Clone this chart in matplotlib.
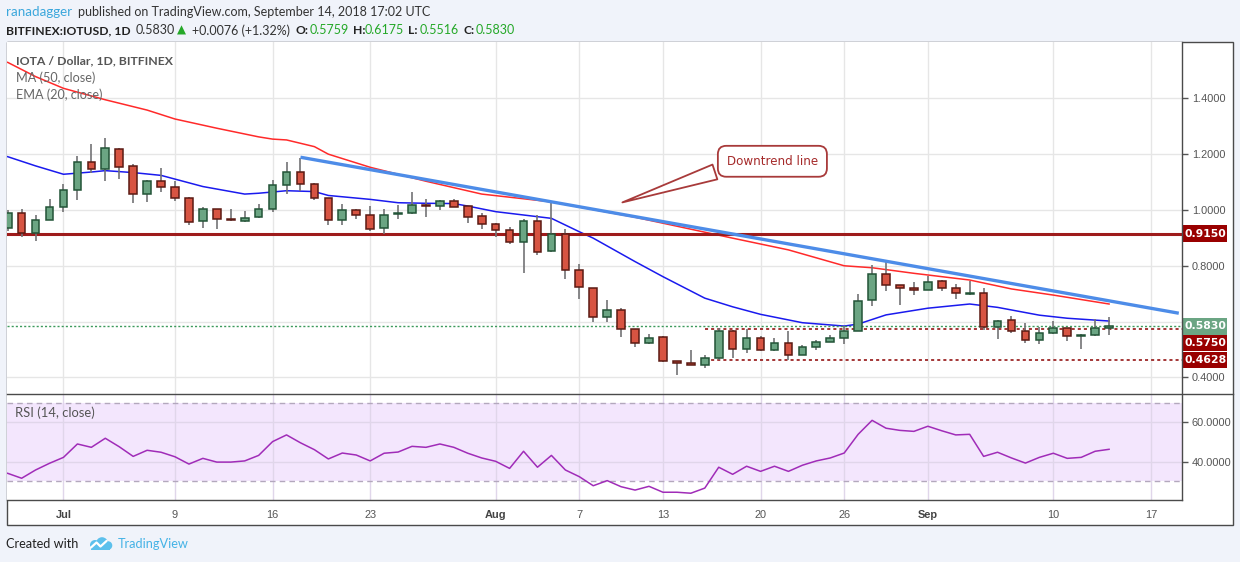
import matplotlib
matplotlib.use("Agg")
import matplotlib.pyplot as plt
import matplotlib.dates as mdates
import numpy as np
import pandas as pd
from matplotlib.patches import Rectangle, Circle
from matplotlib.lines import Line2D
from matplotlib.transforms import blended_transform_factory

# ---------------- data ----------------
dates = pd.date_range("2018-06-27", "2018-09-14", freq="D")

opens = [0.935, 0.988, 0.919, 0.964,
         1.010, 1.071, 1.171, 1.146, 1.218, 1.157, 1.056, 1.103, 1.081, 1.042,
         0.959, 1.002, 0.968, 0.959, 0.974, 1.002, 1.089, 1.135, 1.093, 1.042,
         0.963, 0.999, 0.981, 0.934, 0.985, 0.988, 1.017, 1.013, 1.031, 1.014, 0.977,
         0.949, 0.927, 0.884, 0.959, 0.852, 0.914, 0.784, 0.719, 0.615, 0.640,
         0.572, 0.522, 0.544, 0.458, 0.451, 0.444, 0.468, 0.565, 0.501, 0.540,
         0.497, 0.522, 0.479, 0.508, 0.526, 0.540, 0.565, 0.676, 0.770, 0.730, 0.719,
         0.712, 0.744, 0.719, 0.700, 0.701, 0.580, 0.605, 0.565, 0.533, 0.558,
         0.576, 0.547, 0.551, 0.5759]
highs = [1.000, 1.002, 0.982, 1.039,
         1.093, 1.194, 1.237, 1.258, 1.221, 1.165, 1.108, 1.149, 1.104, 1.045,
         1.010, 1.004, 1.002, 0.995, 1.020, 1.108, 1.171, 1.185, 1.095, 1.044,
         1.020, 1.002, 1.013, 1.002, 1.017, 1.063, 1.039, 1.036, 1.039, 1.015, 0.989,
         0.955, 0.939, 0.967, 0.982, 1.027, 0.931, 0.805, 0.722, 0.677, 0.649,
         0.575, 0.556, 0.550, 0.460, 0.497, 0.480, 0.576, 0.569, 0.575, 0.550,
         0.540, 0.566, 0.515, 0.533, 0.551, 0.583, 0.699, 0.803, 0.817, 0.731, 0.741,
         0.762, 0.748, 0.734, 0.744, 0.719, 0.605, 0.619, 0.594, 0.580, 0.601,
         0.578, 0.555, 0.608, 0.6175]
lows = [0.925, 0.904, 0.890, 0.964,
        0.994, 1.036, 1.131, 1.105, 1.110, 1.026, 1.030, 1.066, 1.033, 0.947,
        0.937, 0.933, 0.960, 0.957, 0.972, 0.992, 1.056, 1.069, 1.035, 0.945,
        0.945, 0.967, 0.925, 0.913, 0.967, 0.985, 0.976, 1.000, 1.020, 0.955, 0.933,
        0.904, 0.877, 0.775, 0.837, 0.850, 0.754, 0.682, 0.599, 0.599, 0.546,
        0.508, 0.518, 0.456, 0.407, 0.443, 0.435, 0.463, 0.471, 0.486, 0.493,
        0.494, 0.461, 0.479, 0.498, 0.526, 0.521, 0.565, 0.657, 0.711, 0.661, 0.696,
        0.712, 0.710, 0.680, 0.695, 0.569, 0.537, 0.558, 0.522, 0.519, 0.555,
        0.529, 0.503, 0.549, 0.5516]
closes = [0.988, 0.919, 0.964, 1.010,
          1.071, 1.171, 1.146, 1.221, 1.153, 1.056, 1.103, 1.081, 1.042, 0.956,
          1.002, 0.967, 0.963, 0.970, 1.002, 1.089, 1.135, 1.093, 1.042, 0.963,
          0.999, 0.981, 0.931, 0.981, 0.988, 1.017, 1.013, 1.032, 1.012, 0.976, 0.949,
          0.927, 0.884, 0.959, 0.849, 0.914, 0.784, 0.723, 0.615, 0.640, 0.572,
          0.522, 0.540, 0.458, 0.451, 0.444, 0.468, 0.565, 0.501, 0.540, 0.497,
          0.522, 0.479, 0.508, 0.526, 0.540, 0.565, 0.673, 0.770, 0.730, 0.719, 0.712,
          0.741, 0.719, 0.701, 0.702, 0.580, 0.601, 0.565, 0.533, 0.558, 0.576,
          0.547, 0.551, 0.5754, 0.5830]

rsi_vals = [34.1, 31.6, 35.8, 39.2,
            42.2, 49.0, 47.3, 51.9, 47.6, 42.7, 45.8, 44.8, 42.5, 38.8,
            41.7, 39.8, 39.8, 40.4, 43.2, 50.2, 53.6, 49.6, 46.1, 41.4,
            44.4, 43.4, 40.4, 44.3, 44.9, 47.8, 47.3, 49.0, 47.3, 44.3, 41.9,
            40.2, 36.6, 45.3, 37.2, 43.2, 35.8, 32.4, 27.8, 30.4, 27.3,
            25.6, 27.5, 24.5, 24.5, 24.0, 26.6, 37.2, 33.6, 37.7, 35.1,
            37.7, 35.1, 38.2, 40.4, 41.9, 44.4, 53.9, 61.0, 57.0, 55.9, 55.4,
            58.0, 55.7, 53.6, 53.9, 42.7, 44.8, 41.9, 39.3, 42.2, 44.3,
            41.7, 42.2, 45.3, 46.3]

ma50_dates = ["2018-06-27", "2018-06-29", "2018-07-01", "2018-07-04", "2018-07-07",
              "2018-07-09", "2018-07-12", "2018-07-15", "2018-07-16", "2018-07-17",
              "2018-07-19", "2018-07-20", "2018-07-23", "2018-07-27", "2018-07-31",
              "2018-08-05", "2018-08-11", "2018-08-18", "2018-08-22", "2018-08-26",
              "2018-08-28", "2018-08-31", "2018-09-04", "2018-09-07", "2018-09-10",
              "2018-09-14"]
ma50_vals = [1.529, 1.478, 1.436, 1.395, 1.358, 1.326, 1.293, 1.262, 1.254, 1.251,
             1.227, 1.200, 1.153, 1.103, 1.057, 1.029, 0.974, 0.899, 0.857, 0.800,
             0.793, 0.773, 0.749, 0.717, 0.695, 0.663]

ema20_dates = ["2018-06-27", "2018-06-29", "2018-07-01", "2018-07-03", "2018-07-04",
               "2018-07-06", "2018-07-08", "2018-07-11", "2018-07-14", "2018-07-15",
               "2018-07-17", "2018-07-19", "2018-07-20", "2018-07-23", "2018-07-25",
               "2018-07-27", "2018-07-29", "2018-07-30", "2018-08-01", "2018-08-05",
               "2018-08-07", "2018-08-08", "2018-08-11", "2018-08-13", "2018-08-16",
               "2018-08-18", "2018-08-20", "2018-08-23", "2018-08-26", "2018-08-27",
               "2018-08-29", "2018-09-01", "2018-09-04", "2018-09-06", "2018-09-09",
               "2018-09-11", "2018-09-14"]
ema20_vals = [1.191, 1.158, 1.128, 1.136, 1.141, 1.134, 1.124, 1.084, 1.057, 1.060,
              1.069, 1.066, 1.052, 1.038, 1.026, 1.024, 1.023, 1.014, 0.994, 0.970,
              0.922, 0.899, 0.815, 0.761, 0.684, 0.653, 0.626, 0.596, 0.584, 0.591,
              0.624, 0.648, 0.663, 0.651, 0.623, 0.612, 0.602]

trend_dates = ["2018-07-18", "2018-09-19"]
trend_vals = [1.189, 0.630]

resistance = 0.9150
support_hi = 0.5750
support_lo = 0.4628
last_price = 0.5830
support_start = "2018-08-16"

price_ticks = [0.4, 0.6, 0.8, 1.0, 1.2, 1.4]
price_tick_labels = ["0.4000", "", "0.8000", "1.0000", "1.2000", "1.4000"]
rsi_ticks = [40, 60]
rsi_tick_labels = ["40.0000", "60.0000"]
date_ticks = ["2018-07-01", "2018-07-09", "2018-07-16", "2018-07-23", "2018-08-01",
              "2018-08-07", "2018-08-13", "2018-08-20", "2018-08-26", "2018-09-01",
              "2018-09-10", "2018-09-17"]
date_tick_labels = ["Jul", "9", "16", "23", "Aug", "7", "13", "20", "26", "Sep", "10", "17"]
month_labels = {"Jul", "Aug", "Sep"}

# ---------------- styling ----------------
W, H = 1240, 562
BG = "#f0f3fa"
UP, UP_EDGE = "#6ba583", "#225437"
DN, DN_EDGE = "#d75442", "#5b1a13"
WICK = "#737375"
AX_TXT = "#555555"

fig = plt.figure(figsize=(W / 100, H / 100), dpi=100, facecolor=BG)


def fx(px):
    return px / W


def fy(py):
    return 1 - py / H


# chart frame (white area behind the panes)
fig.patches.append(Rectangle((fx(7), fy(525)), fx(1233) - fx(7), fy(42) - fy(525),
                             transform=fig.transFigure, facecolor="white",
                             edgecolor="#4a4a4a", lw=1.0, zorder=-10))

ax = fig.add_axes([fx(7), fy(394), fx(1182) - fx(7), fy(42) - fy(394)])
axr = fig.add_axes([fx(7), fy(500), fx(1182) - fx(7), fy(394) - fy(500)], sharex=ax)

x = mdates.date2num(dates)
o = np.array(opens)
h = np.array(highs)
l = np.array(lows)
c = np.array(closes)

jul1 = mdates.date2num(pd.Timestamp("2018-07-01"))
xmin, xmax = jul1 - 4.05, jul1 + 80.23
ax.set_xlim(xmin, xmax)
ax.set_ylim(0.3405, 1.602)
axr.set_ylim(20.56, 74.37)

for a in (ax, axr):
    a.set_facecolor("white")
    for s in a.spines.values():
        s.set_visible(False)
    a.set_xticks(mdates.date2num(pd.to_datetime(date_ticks)))
    a.grid(True, color="#e6e6e6", lw=1)
    a.set_axisbelow(True)

# moving averages
ax.plot(mdates.date2num(pd.to_datetime(ma50_dates)), ma50_vals, color="#ff2a2a", lw=1.1, zorder=2)
ax.plot(mdates.date2num(pd.to_datetime(ema20_dates)), ema20_vals, color="#1a1aee", lw=1.1, zorder=2)

# horizontal levels
ax.axhline(resistance, color="#9e1b1b", lw=2.2, zorder=2.5)
ax.axhline(last_price, color="#3d9a5c", lw=1, ls=(0, (1.5, 1.5)), zorder=2.5)
xs = mdates.date2num(pd.Timestamp(support_start))
ax.plot([xs, xmax], [support_hi, support_hi], color="#8b0000", lw=1.1, ls=(0, (2, 2)), zorder=2.5)
ax.plot([xs, xmax], [support_lo, support_lo], color="#8b0000", lw=1.1, ls=(0, (2, 2)), zorder=2.5)

# candles
width = 0.55
up = c >= o
body_lo = np.minimum(o, c)
body_h = np.maximum(np.abs(c - o), 0.003)
ax.vlines(x, l, h, color=WICK, lw=1.2, zorder=3)
ax.bar(x[up], body_h[up], bottom=body_lo[up], width=width, color=UP,
       edgecolor=UP_EDGE, lw=1.1, zorder=4)
ax.bar(x[~up], body_h[~up], bottom=body_lo[~up], width=width, color=DN,
       edgecolor=DN_EDGE, lw=1.1, zorder=4)

# downtrend line
ax.plot(mdates.date2num(pd.to_datetime(trend_dates)), trend_vals, color="#4d8ce8",
        lw=2.4, solid_capstyle="butt", zorder=5)

# callout
ax.annotate("Downtrend line", xy=(jul1 + 39.9, 1.024), xytext=(jul1 + 50.85, 1.1745),
            ha="center", va="center", fontsize=8.6, color="#a52a2a", family="DejaVu Sans",
            bbox=dict(boxstyle="round,pad=0.75,rounding_size=0.7", fc="white", ec="#a83a3a", lw=1.3),
            arrowprops=dict(arrowstyle="wedge,tail_width=1.3,shrink_factor=0.5", fc="white",
                            ec="#a83a3a", lw=1.3, relpos=(0.06, 0.12)),
            zorder=6)

# right price axis
ax.yaxis.tick_right()
ax.set_yticks(price_ticks)
ax.set_yticklabels(price_tick_labels)
ax.tick_params(axis="y", direction="out", length=4, width=1, color="#555555", pad=3,
               labelsize=7.9, labelcolor=AX_TXT)
ax.tick_params(axis="x", length=0, labelbottom=False)
for t in ax.get_yticklabels():
    t.set_family("Liberation Sans")

# price label boxes
ypix_per_unit = (394 - 42) / (1.602 - 0.3405)
box_h = 16.4 / ypix_per_unit
bt = blended_transform_factory(ax.transAxes, ax.transData)
box_w = 45 / 1175


def price_box(y_center, text, color):
    ax.add_patch(Rectangle((1.0, y_center - box_h / 2), box_w, box_h, transform=bt,
                           facecolor=color, edgecolor="none", clip_on=False, zorder=7))
    ax.text(1.0 + box_w / 2 + 0.0005, y_center, text, transform=bt, ha="center", va="center",
            color="white", fontsize=7.8, fontweight="bold", family="DejaVu Sans",
            clip_on=False, zorder=8)


price_box(resistance, f"{resistance:.4f}", "#990000")
price_box(last_price, f"{last_price:.4f}", "#6ba583")
price_box(last_price - box_h, f"{support_hi:.4f}", "#990000")
price_box(support_lo, f"{support_lo:.4f}", "#990000")

# pane legend
ax.text(8.7 / 1175, 1 - (60.7 - 42) / 352, "IOTA / Dollar, 1D, BITFINEX", transform=ax.transAxes,
        ha="left", va="center", fontsize=8.8, fontweight="bold", color="#555555", family="Lato")
ax.text(8.7 / 1175, 1 - (77.7 - 42) / 352, "MA (50, close)", transform=ax.transAxes,
        ha="left", va="center", fontsize=9.1, color="#666666", family="Lato")
ax.text(8.7 / 1175, 1 - (94.3 - 42) / 352, "EMA (20, close)", transform=ax.transAxes,
        ha="left", va="center", fontsize=9.1, color="#666666", family="Lato")

# RSI pane
axr.axhspan(30, 70, color="#f3e6fd", zorder=0.5, lw=0)
axr.axhline(70, color="#b3a8bd", lw=1, ls=(0, (4, 3)), zorder=1)
axr.axhline(30, color="#b3a8bd", lw=1, ls=(0, (4, 3)), zorder=1)
axr.grid(True, color="#e0d6ea", lw=1)
axr.plot(x, rsi_vals, color="#a02cb8", lw=1.1, zorder=3)
axr.text(8.3 / 1175, 1 - (412.3 - 394) / 106, "RSI (14, close)", transform=axr.transAxes,
         ha="left", va="center", fontsize=9.4, color="#555555", family="Lato")
axr.yaxis.tick_right()
axr.set_yticks(rsi_ticks)
axr.set_yticklabels(rsi_tick_labels)
axr.tick_params(axis="y", direction="out", length=4, width=1, color="#555555", pad=3,
                labelsize=7.9, labelcolor=AX_TXT)
axr.set_xticklabels(date_tick_labels)
axr.tick_params(axis="x", length=0, pad=7, labelsize=7.9, labelcolor=AX_TXT)
for t in axr.get_yticklabels():
    t.set_family("Liberation Sans")
for t in axr.get_xticklabels():
    t.set_family("Liberation Sans")
    if t.get_text() in month_labels:
        t.set_fontweight("bold")
        t.set_color("#444444")
axr.set_xlim(xmin, xmax)

# frame lines
def fline(x0, y0, x1, y1, color="#4a4a4a", lw=1.0):
    fig.lines.append(Line2D([fx(x0), fx(x1)], [fy(y0), fy(y1)], transform=fig.transFigure,
                            color=color, lw=lw, zorder=10))


fline(7, 394, 1233, 394)
fline(1182, 42, 1182, 500)
fline(7, 500, 1182, 500)

# header
HF = 9.0
fig.text(fx(6), fy(12.5), "ranadagger", color="#3ba7dc", fontsize=9.6, family="Lato", va="center")
fig.text(fx(77.5), fy(12.5), "published on TradingView.com, September 14, 2018 17:02 UTC",
         color="#333333", fontsize=HF, family="Lato", va="center")
hdr_y = fy(30.5)
GREEN = "#25a828"
fig.text(fx(6), hdr_y, "BITFINEX:IOTUSD, 1D", color="#222222", fontsize=8.7, family="Lato",
         fontweight="bold", va="center")
fig.text(fx(136), hdr_y, "0.5830", color="#333333", fontsize=HF, family="Lato", va="center")
fig.text(fx(177), hdr_y, "\u25b2", color=GREEN, fontsize=8.5, family="DejaVu Sans", va="center")
fig.text(fx(192), hdr_y, "+0.0076 (+1.32%)", color="#333333", fontsize=HF, family="Lato", va="center")
for lab, px_lab, val, px_val in [("O:", 296, "0.5759", 310), ("H:", 352.5, "0.6175", 365),
                                 ("L:", 408, "0.5516", 420), ("C:", 463, "0.5830", 476)]:
    fig.text(fx(px_lab), hdr_y, lab, color="#222222", fontsize=8.7, family="Lato",
             fontweight="bold", va="center")
    fig.text(fx(px_val), hdr_y, val, color=GREEN, fontsize=HF, family="Lato", va="center")

# footer
fig.text(fx(6), fy(544.5), "Created with", color="#222222", fontsize=9.2, family="Lato", va="center")
fig.text(fx(118), fy(544.5), "TradingView", color="#45b3e6", fontsize=9.2, family="Lato", va="center")
logo = fig.add_axes([fx(87), fy(551), fx(113) - fx(87), fy(537) - fy(551)])
logo.set_xlim(0, 26)
logo.set_ylim(0, 14)
logo.set_aspect("equal")
logo.axis("off")
for (cx, cy, r) in [(8, 6, 5), (15, 8, 5.8), (21, 5.5, 4.3)]:
    logo.add_patch(Circle((cx, cy), r, color="#5cc0ec", lw=0))
logo.add_patch(Rectangle((4, 1.2), 19, 5, color="#5cc0ec", lw=0))
logo.plot([4, 9.5, 13.5, 19.5], [3.5, 8.5, 4.5, 10], color="white", lw=1.6,
          solid_capstyle="round", solid_joinstyle="round")

fig.savefig("out.png", dpi=100, facecolor=BG)
